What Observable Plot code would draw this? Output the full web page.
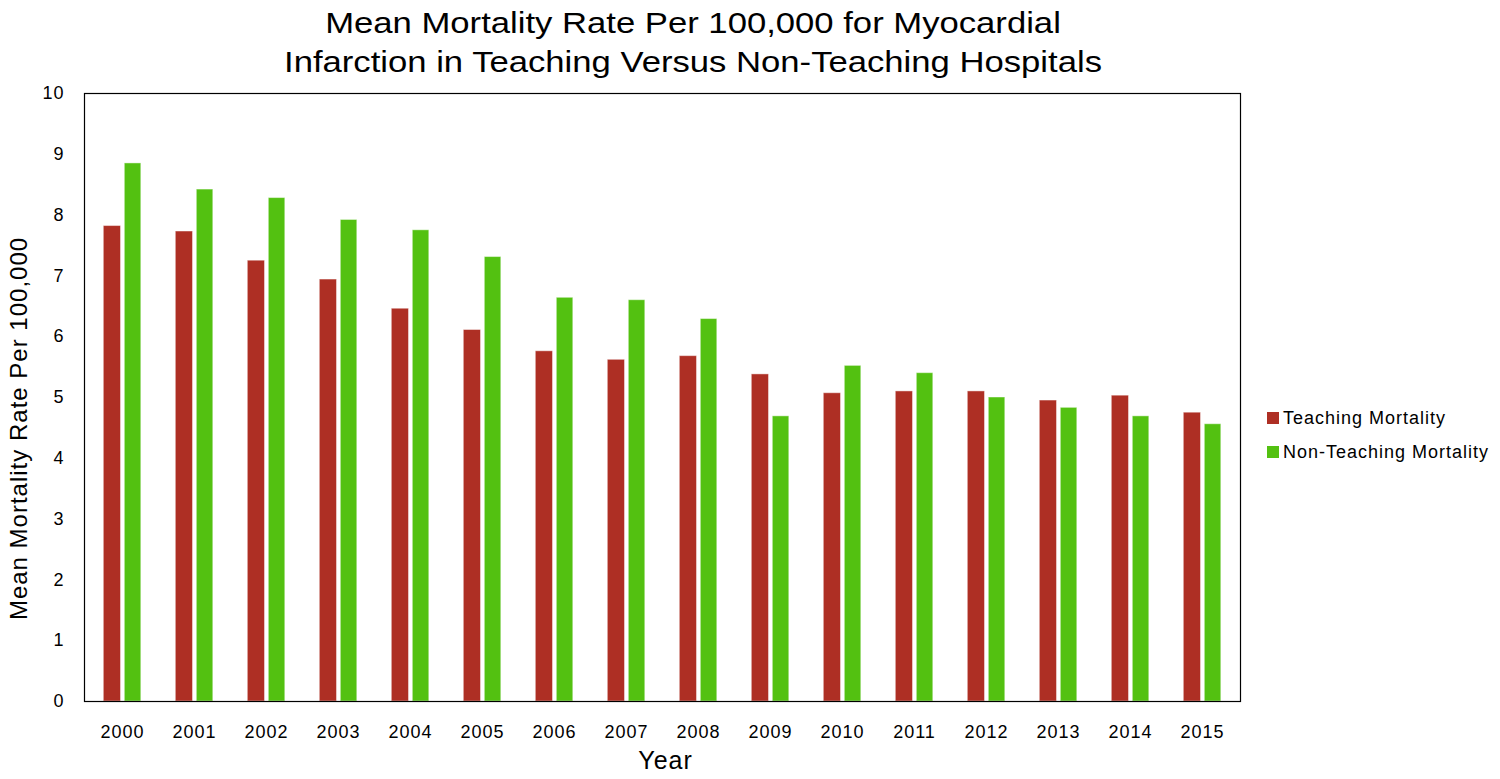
<!DOCTYPE html>
<html>
<head>
<meta charset="utf-8">
<script src="https://cdn.jsdelivr.net/npm/d3@7"></script>
<script src="https://cdn.jsdelivr.net/npm/@observablehq/plot@0.6"></script>
<style>
  html, body { margin: 0; padding: 0; background: #fff; }
  #wrap { position: relative; width: 1500px; height: 779px; overflow: hidden; font-family: "Liberation Sans", Arial, sans-serif; }
  #title { position: absolute; left: 0; top: 0; width: 1386px; height: 80px; text-align: center; font-size: 30px; line-height: 39px; padding-top: 3px; color: #000; box-sizing: border-box; transform: scaleX(1.155); transform-origin: 693px 0; }
  #chart { position: absolute; left: 0; top: 80px; }
  #legend { position: absolute; left: 1267px; top: 401px; font-size: 18px; letter-spacing: 1px; color: #000; }
  .item { display: flex; align-items: center; height: 34px; }
  .sw { width: 12px; height: 12px; margin-right: 4px; }
</style>
</head>
<body>
<div id="wrap">
  <div id="title">Mean Mortality Rate Per 100,000 for Myocardial<br>Infarction in Teaching Versus Non-Teaching Hospitals</div>
  <div id="chart"></div>
  <div id="legend"></div>
</div>
<script>
const years = [2000, 2001, 2002, 2003, 2004, 2005, 2006, 2007, 2008, 2009, 2010, 2011, 2012, 2013, 2014, 2015];
const teaching = [7.82, 7.73, 7.25, 6.94, 6.46, 6.11, 5.76, 5.62, 5.68, 5.38, 5.07, 5.10, 5.10, 4.95, 5.03, 4.75];
const nonTeaching = [8.85, 8.42, 8.28, 7.92, 7.75, 7.31, 6.64, 6.60, 6.29, 4.69, 5.52, 5.40, 5.00, 4.83, 4.69, 4.56];
const yTicks = [0, 1, 2, 3, 4, 5, 6, 7, 8, 9, 10];
const seriesNames = ["Teaching Mortality", "Non-Teaching Mortality"];
const seriesColors = ["#AE2F24", "#53C111"];
const yLabel = "Mean Mortality Rate Per 100,000";
const xLabel = "Year";

const rows = years.map((y, i) => ({year: String(y), t: teaching[i], n: nonTeaching[i]}));

const chart = Plot.plot({
  width: 1500,
  height: 699,
  marginTop: 13,
  marginBottom: 78,
  marginLeft: 84,
  marginRight: 260,
  style: {fontFamily: "'Liberation Sans', Arial, sans-serif", fontSize: "18px", color: "#000", background: "#fff", overflow: "visible", letterSpacing: "1px"},
  x: {domain: years.map(String), padding: 0, label: null},
  y: {domain: [0, 10], label: null},
  marks: [
    Plot.barY(rows, {x: "year", y: "t", fill: seriesColors[0], stroke: "#fff", strokeOpacity: 0.45, strokeWidth: 1, insetLeft: 17.3, insetRight: 37.5}),
    Plot.barY(rows, {x: "year", y: "n", fill: seriesColors[1], stroke: "#fff", strokeOpacity: 0.45, strokeWidth: 1, insetLeft: 38.3, insetRight: 17.2}),
    Plot.frame({stroke: "#000", strokeWidth: 1.2}),
    Plot.axisY({ticks: yTicks, tickSize: 0, tickPadding: 20, label: null, fontSize: 18}),
    Plot.axisX({tickSize: 0, tickPadding: 24, label: null, fontSize: 18}),
    Plot.text([yLabel], {frameAnchor: "left", textAnchor: "middle", lineAnchor: "middle", rotate: -90, dx: -65, dy: 31, fontSize: 24, fill: "#000"}),
    Plot.text([xLabel], {frameAnchor: "bottom", textAnchor: "middle", lineAnchor: "middle", dx: 3, dy: 59, fontSize: 25, fill: "#000"})
  ]
});
document.getElementById("chart").appendChild(chart);

const legend = document.getElementById("legend");
seriesNames.forEach((name, i) => {
  const item = document.createElement("div");
  item.className = "item";
  const sw = document.createElement("div");
  sw.className = "sw";
  sw.style.background = seriesColors[i];
  const lab = document.createElement("span");
  lab.textContent = name;
  item.appendChild(sw);
  item.appendChild(lab);
  legend.appendChild(item);
});
</script>
</body>
</html>
